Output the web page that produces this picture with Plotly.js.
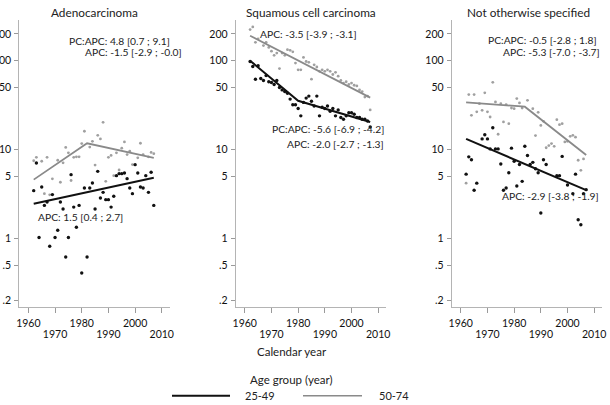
<!DOCTYPE html>
<html>
<head>
<meta charset="utf-8">
<script src="https://cdn.plot.ly/plotly-3.0.1.min.js"></script>
<style>
  html, body { margin: 0; padding: 0; background: #fff; }
  #chart { width: 610px; height: 405px; }
</style>
</head>
<body>
<div id="chart"></div>
<script>
// Incidence rates by calendar year, two age groups, three histological types.

// Adenocarcinoma
const adenoYoungYears = [1962,1963,1964,1965,1966,1967,1968,1969,1970,1971,1972,1973,1974,1975,1976,1977,1978,1979,1980,1981,1982,1983,1984,1985,1986,1987,1988,1989,1990,1991,1992,1993,1994,1995,1996,1997,1998,1999,2000,2001,2002,2003,2004,2005,2006,2007];
const adenoYoung = [3.46,7.08,1.03,3.80,2.36,2.58,0.82,3.12,1.03,1.24,2.58,2.15,0.62,1.03,5.23,2.26,1.34,2.36,0.41,3.71,0.62,3.71,4.22,2.15,5.70,2.86,3.31,2.74,2.74,2.26,2.99,5.10,5.37,5.37,5.47,4.72,3.71,3.20,6.78,5.47,3.80,3.71,5.10,3.31,5.56,2.36];
const adenoOldYears = [1962,1963,1965,1966,1967,1968,1969,1971,1972,1973,1974,1975,1976,1977,1978,1979,1980,1981,1983,1984,1985,1986,1987,1988,1989,1990,1991,1992,1993,1994,1995,1996,1997,1998,1999,2001,2002,2003,2005,2006,2007];
const adenoOld = [7.5,8.2,7.4,3.2,8.2,3.1,4.7,7.6,4.3,7.1,10.6,9.2,4.5,8.2,8.3,8.3,11.7,16.1,10.7,12.4,6.7,14.5,13.2,20.3,4.4,8.2,8.6,5.1,9.2,5.9,10.4,12.2,8.8,9.6,6.8,8.1,11.8,8.8,8.3,9.3,9.0];
const adenoYoungFitYears = [1962, 2007];
const adenoYoungFit = [2.47, 4.82];
const adenoOldFitYears = [1962, 1982, 2007];
const adenoOldFit = [4.6, 11.8, 8.1];

// Squamous cell carcinoma
const squamYoungYears = [1962,1963,1964,1965,1966,1967,1968,1969,1970,1971,1972,1973,1974,1975,1976,1977,1978,1979,1980,1981,1982,1983,1984,1985,1986,1987,1988,1989,1990,1991,1992,1993,1994,1995,1996,1997,1998,1999,2000,2001,2002,2003,2004,2005,2006,2007];
const squamYoung = [98,86,62,88,63,60,68,58,57,54,60,50,47,45,43,37,32,32,29,24,34,38,40,35,31,40,24,30,29,31,27,29,24,28,23,22,24,26,26,25,23,23,22,22,21,18];
const squamOldYears = [1962,1963,1964,1965,1967,1968,1969,1970,1971,1972,1973,1974,1975,1976,1977,1978,1979,1980,1981,1982,1983,1984,1985,1986,1987,1988,1989,1990,1991,1992,1993,1994,1995,1996,1997,1998,1999,2000,2001,2002,2003,2004,2005,2006,2007];
const squamOld = [224,240,161,176,148,161,141,128,115,122,81.5,122,115,133,131,126,94,79,79,109,98,96,62,90,85,76,79,76,79,76,70,74,67,60,56,58,54,56,53,52,47,45,39,40,28];
const squamYoungFitYears = [1962, 1980, 2007];
const squamYoungFit = [100, 35.4, 20.5];
const squamOldFitYears = [1962, 2007];
const squamOldFit = [191, 38.5];

// Not otherwise specified
const nosYoungYears = [1962,1963,1964,1965,1966,1968,1969,1970,1971,1972,1973,1974,1975,1976,1977,1978,1979,1980,1981,1982,1983,1984,1985,1986,1987,1988,1989,1990,1991,1992,1996,1997,1998,2000,2002,2003,2004,2005,2006,2007];
const nosYoung = [5.3,8.3,7.7,3.5,4.2,13.2,14.7,13.2,10.2,17.6,10.2,10.2,6.9,3.5,3.7,5.5,10.4,7.4,3.9,6.8,4.4,10.9,8.6,6.8,7.2,6.1,5.5,1.94,7.7,6.8,5.1,5.1,8.4,4.0,3.2,5.3,1.63,1.43,3.2,3.55];
const nosOldYears = [1962,1963,1964,1965,1966,1967,1968,1969,1970,1971,1972,1973,1974,1975,1976,1977,1978,1979,1980,1981,1982,1983,1985,1987,1988,1989,1990,1991,1992,1993,1994,1995,1996,1997,1998,1999,2000,2001,2002,2003,2004,2005,2006];
const nosOld = [4.2,41.6,24.3,41.6,26.6,32.9,27.7,43.5,26.6,23.3,57.2,34.4,14.9,32.9,20.5,32.1,19.6,29.4,28.9,37.5,33.5,29.4,35.9,28.9,14.4,26.3,18.7,20.8,10.5,11.1,11.7,10.9,21.7,19.1,19.6,12.2,12.4,14.1,14.5,13.8,7.6,5.85,7.86];
const nosYoungFitYears = [1962, 2007];
const nosYoungFit = [13.2, 3.5];
const nosOldFitYears = [1962, 1984, 2007];
const nosOldFit = [34, 30.4, 8.7];

const panelTitles = ['Adenocarcinoma', 'Squamous cell carcinoma', 'Not otherwise specified'];
const yTickVals = [0.2, 0.5, 1, 5, 10, 50, 100, 200];
const yTickText = ['.2', '.5', '1', '5', '10', '50', '100', '200'];
const xTickVals = [1960, 1970, 1980, 1990, 2000, 2010];
const xTickUpper = ['1960', '', '1980', '', '2000', ''];
const xTickLowerVals = [1970, 1990, 2010];
const xTickLower = ['1970', '1990', '2010'];
const ageGroups = ['25-49', '50-74'];
const apcLabels = [
  ['PC:APC: 4.8 [0.7 ; 9.1]', 'APC: -1.5 [-2.9 ; -0.0]', 'APC: 1.5 [0.4 ; 2.7]'],
  ['APC: -3.5 [-3.9 ; -3.1]', 'PC:APC: -5.6 [-6.9 ; -4.2]', 'APC: -2.0 [-2.7 ; -1.3]'],
  ['PC:APC: -0.5 [-2.8 ; 1.8]', 'APC: -5.3 [-7.0 ; -3.7]', 'APC: -2.9 [-3.8 ; -1.9]']
];

const W = 610, H = 405;
const px = v => v / W;
const py = v => 1 - v / H;

const FONT = 'Lato, "Open Sans", sans-serif';
const BLACK = '#111111';
const GREY = '#8a8a8a';
const GREY_PT = '#a0a0a0';

const panels = [
  { young: [adenoYoungYears, adenoYoung], old: [adenoOldYears, adenoOld],
    yFit: [adenoYoungFitYears, adenoYoungFit], oFit: [adenoOldFitYears, adenoOldFit] },
  { young: [squamYoungYears, squamYoung], old: [squamOldYears, squamOld],
    yFit: [squamYoungFitYears, squamYoungFit], oFit: [squamOldFitYears, squamOldFit] },
  { young: [nosYoungYears, nosYoung], old: [nosOldYears, nosOld],
    yFit: [nosYoungFitYears, nosYoungFit], oFit: [nosOldFitYears, nosOldFit] }
];

const traces = [];
panels.forEach((p, i) => {
  const xa = i === 0 ? 'x' : 'x' + (i + 1);
  const ya = i === 0 ? 'y' : 'y' + (i + 1);
  traces.push({ x: p.old[0], y: p.old[1], xaxis: xa, yaxis: ya, mode: 'markers', type: 'scatter',
    marker: { color: GREY_PT, size: 2.8 }, name: ageGroups[1], showlegend: false, hoverinfo: 'x+y' });
  traces.push({ x: p.young[0], y: p.young[1], xaxis: xa, yaxis: ya, mode: 'markers', type: 'scatter',
    marker: { color: BLACK, size: 3.4 }, name: ageGroups[0], showlegend: false, hoverinfo: 'x+y' });
  traces.push({ x: p.oFit[0], y: p.oFit[1], xaxis: xa, yaxis: ya, mode: 'lines', type: 'scatter',
    line: { color: GREY, width: 1.8 }, name: ageGroups[1], showlegend: false, hoverinfo: 'skip' });
  traces.push({ x: p.yFit[0], y: p.yFit[1], xaxis: xa, yaxis: ya, mode: 'lines', type: 'scatter',
    line: { color: BLACK, width: 2 }, name: ageGroups[0], showlegend: false, hoverinfo: 'skip' });
  // carrier for the second row of year labels
  traces.push({ x: [], y: [], xaxis: 'x' + (i + 4), yaxis: ya, type: 'scatter', mode: 'markers',
    showlegend: false, hoverinfo: 'skip' });
});

const xDomains = [[19.3, 169.8], [235.7, 386.2], [451.7, 602.2]];
const yDomain = [(H - 307) / H, (H - 20) / H];
const xRange = [1956.6, 2013];
const yRange = [Math.log10(0.17), Math.log10(287)];
const tickFont = { family: FONT, size: 10.5, color: '#111' };

const layout = {
  width: W, height: H, autosize: false,
  margin: { l: 0, r: 0, t: 0, b: 0, pad: 0 },
  paper_bgcolor: '#ffffff', plot_bgcolor: '#ffffff',
  font: { family: FONT, size: 10.5, color: '#111' },
  showlegend: false,
  annotations: [], shapes: []
};

xDomains.forEach((d, i) => {
  const k = i === 0 ? '' : String(i + 1);
  layout['xaxis' + k] = {
    domain: [px(d[0]), px(d[1])], range: xRange, anchor: 'y' + k,
    tickvals: xTickVals, ticktext: xTickUpper, ticks: 'outside', ticklen: 5, tickwidth: 1,
    tickcolor: '#9a9a9a', showline: true, linecolor: '#b4b4b4', linewidth: 1,
    showgrid: false, zeroline: false, fixedrange: true,
    tickfont: tickFont, ticklabelstandoff: 1
  };
  // second, staggered row of year labels, one row below the first
  layout['xaxis' + (i + 4)] = {
    overlaying: i === 0 ? 'x' : 'x' + (i + 1), anchor: 'free', position: py(318), range: xRange,
    tickvals: xTickLowerVals, ticktext: xTickLower, ticks: 'outside', ticklen: 5,
    tickcolor: 'rgba(0,0,0,0)', showline: false,
    showgrid: false, zeroline: false, fixedrange: true, side: 'bottom',
    tickfont: tickFont, ticklabelstandoff: 1
  };
  layout['yaxis' + k] = {
    domain: yDomain, type: 'log', range: yRange, anchor: 'x' + k,
    tickvals: yTickVals, ticktext: yTickText, ticks: 'outside', ticklen: 4, tickwidth: 1,
    tickcolor: '#9a9a9a', showline: true, linecolor: '#b4b4b4', linewidth: 1,
    showgrid: false, zeroline: false, fixedrange: true,
    tickfont: tickFont, ticklabelstandoff: 1
  };
});

const ann = (text, x, y, xanchor, size) => ({
  text, xref: 'paper', yref: 'paper', x: px(x), y: py(y), xanchor: xanchor || 'left', yanchor: 'middle',
  showarrow: false, font: { family: FONT, size: size || 10.3, color: '#222' }
});

// Panel titles
layout.annotations.push(ann(panelTitles[0], 94, 12, 'center', 11.8));
layout.annotations.push(ann(panelTitles[1], 310.5, 12, 'center', 11.8));
layout.annotations.push(ann(panelTitles[2], 528, 12, 'center', 11.8));

// Joinpoint estimates
layout.annotations.push(ann(apcLabels[0][0], 66.5, 41));
layout.annotations.push(ann(apcLabels[0][1], 82.5, 52.3));
layout.annotations.push(ann(apcLabels[0][2], 36, 216.7));
layout.annotations.push(ann(apcLabels[1][0], 258.3, 34.3));
layout.annotations.push(ann(apcLabels[1][1], 386, 129.3, 'right'));
layout.annotations.push(ann(apcLabels[1][2], 386, 144, 'right'));
layout.annotations.push(ann(apcLabels[2][0], 598.5, 40, 'right'));
layout.annotations.push(ann(apcLabels[2][1], 601.5, 52.3, 'right'));
layout.annotations.push(ann(apcLabels[2][2], 601, 196, 'right'));

// Axis title and legend
layout.annotations.push(ann('Calendar year', 291.5, 351, 'center', 11.5));
layout.annotations.push(ann('Age group (year)', 291, 379.5, 'center', 11.5));
layout.annotations.push(ann(ageGroups[0], 243, 395.7, 'left', 11));
layout.annotations.push(ann(ageGroups[1], 377, 395.7, 'left', 11));
layout.shapes.push({ type: 'line', xref: 'paper', yref: 'paper',
  x0: px(172), x1: px(230), y0: py(395.7), y1: py(395.7), line: { color: BLACK, width: 2 } });
layout.shapes.push({ type: 'line', xref: 'paper', yref: 'paper',
  x0: px(303), x1: px(362), y0: py(395.7), y1: py(395.7), line: { color: GREY, width: 1.6 } });

Plotly.newPlot('chart', traces, layout, { displayModeBar: false, staticPlot: true });
</script>
</body>
</html>
